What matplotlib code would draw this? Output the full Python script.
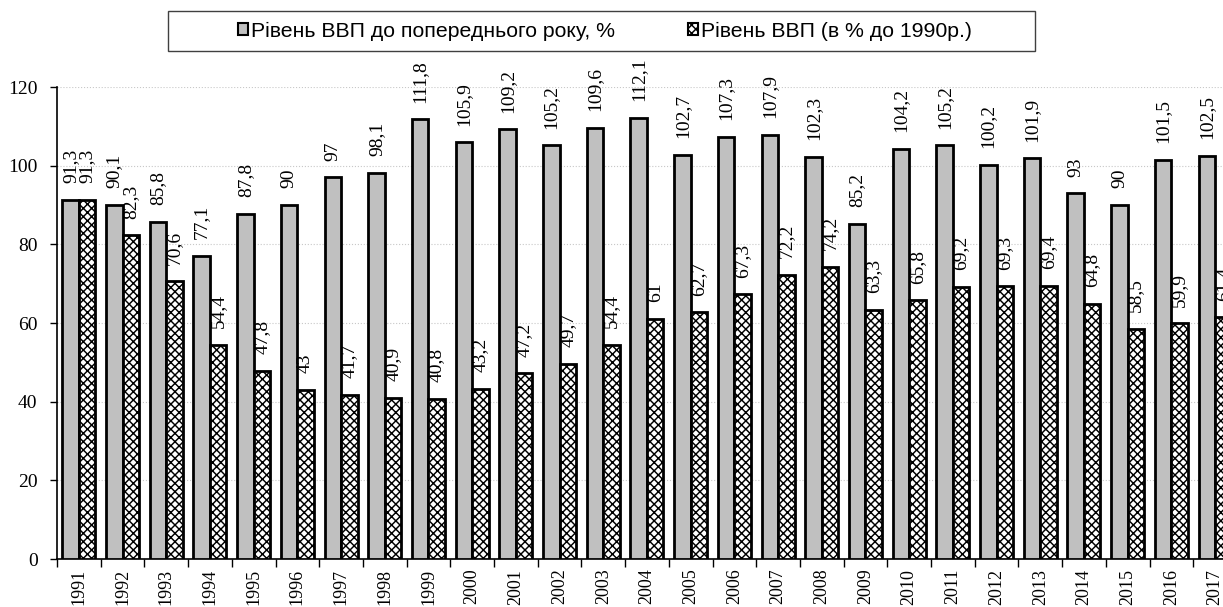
import matplotlib
matplotlib.use("Agg")
import matplotlib.pyplot as plt
import numpy as np
from matplotlib.patches import Patch, Rectangle

years = [str(y) for y in range(1991, 2018)]
gdp_prev = [91.3, 90.1, 85.8, 77.1, 87.8, 90, 97, 98.1, 111.8, 105.9, 109.2, 105.2,
            109.6, 112.1, 102.7, 107.3, 107.9, 102.3, 85.2, 104.2, 105.2, 100.2,
            101.9, 93, 90, 101.5, 102.5]
gdp_1990 = [91.3, 82.3, 70.6, 54.4, 47.8, 43, 41.7, 40.9, 40.8, 43.2, 47.2, 49.7,
            54.4, 61, 62.7, 67.3, 72.2, 74.2, 63.3, 65.8, 69.2, 69.3, 69.4, 64.8,
            58.5, 59.9, 61.4]
series_names = ["Рівень ВВП до попереднього року, %", "Рівень ВВП (в % до 1990р.)"]

plt.rcParams['hatch.linewidth'] = 1.05
plt.rcParams['hatch.color'] = 'black'
serif = ['Liberation Serif', 'DejaVu Serif']
sans = ['Liberation Sans', 'DejaVu Sans']
HATCH = 'xxxx'

W, H = 1223, 607
fig = plt.figure(figsize=(W / 100, H / 100), dpi=100)
left = 57 / W
bottom = (H - 559) / H
height = (559 - 87) / H
width = 27 * 43.7 / W
ax = fig.add_axes([left, bottom, width, height])

x = np.arange(len(years))
bw = 0.378
b1 = ax.bar(x - bw / 2, gdp_prev, bw, color='#c0c0c0', edgecolor='black', linewidth=2, zorder=3)
b2 = ax.bar(x + bw / 2, gdp_1990, bw, color='white', edgecolor='black', linewidth=2,
            hatch=HATCH, zorder=3)


def fmt(v):
    return ('%g' % v).replace('.', ',')

for xi, v in zip(x, gdp_prev):
    ax.annotate(fmt(v), (xi - bw / 2, v), xytext=(0, 12), textcoords='offset points',
                rotation=90, ha='center', va='bottom', fontsize=14, family=serif, zorder=4)
for xi, v in zip(x, gdp_1990):
    ax.annotate(fmt(v), (xi + bw / 2, v), xytext=(0, 12), textcoords='offset points',
                rotation=90, ha='center', va='bottom', fontsize=14, family=serif, zorder=4)

ax.set_xlim(-0.5, len(years) - 0.5)
ax.set_ylim(0, 120)
ax.set_yticks(range(0, 121, 20))
ax.set_yticklabels([str(t) for t in range(0, 121, 20)], family=serif, fontsize=14)
ax.set_xticks(x)
ax.set_xticklabels(years, rotation=90, family=serif, fontsize=13)
ax.set_xticks(np.arange(-0.5, len(years), 1), minor=True)
ax.tick_params(axis='x', which='major', length=0, pad=7)
ax.tick_params(axis='x', which='minor', length=6, width=1, color='black')
ax.tick_params(axis='y', length=5, width=1, pad=9)
ax.grid(axis='y', linestyle=':', color='#c8c8c8', linewidth=0.8, zorder=0)
ax.spines['top'].set_visible(False)
ax.spines['right'].set_visible(False)
ax.spines['left'].set_linewidth(1.2)
ax.spines['bottom'].set_linewidth(1.2)

# legend frame
fig.add_artist(Rectangle((168 / W, 1 - 51 / H), (1035 - 168) / W, 40 / H,
                         transform=fig.transFigure, facecolor='white',
                         edgecolor='#404040', linewidth=1.0))
handles = [Patch(facecolor='#c0c0c0', edgecolor='black', linewidth=1.5),
           Patch(facecolor='white', edgecolor='black', linewidth=1.5, hatch=HATCH)]
leg = fig.legend(handles, series_names, loc='center', bbox_to_anchor=(605 / W, 1 - 31 / H),
                 ncol=2, frameon=False,
                 prop={'family': sans, 'size': 15.3}, handlelength=0.5, handleheight=0.5,
                 handletextpad=0.15, columnspacing=3.4, borderpad=0.5, borderaxespad=0)

fig.savefig('out.png', dpi=100)
